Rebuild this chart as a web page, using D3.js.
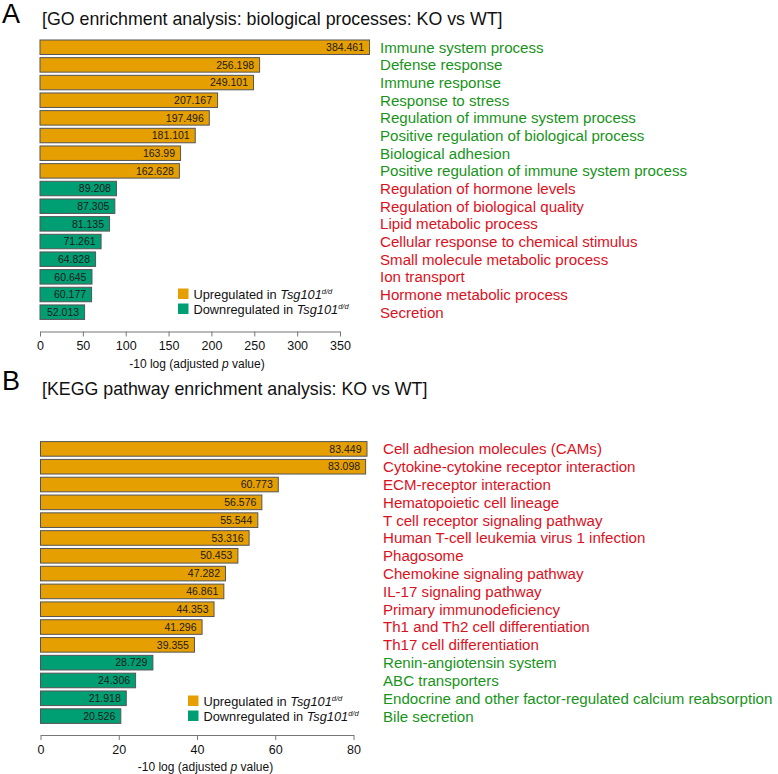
<!DOCTYPE html>
<html>
<head>
<meta charset="utf-8">
<script src="https://cdn.jsdelivr.net/npm/d3@7"></script>
<style>
html,body{margin:0;padding:0;background:#fff;}
svg{display:block;font-family:"Liberation Sans",Arial,sans-serif;}
</style>
</head>
<body>
<svg id="chart" width="778" height="774"></svg>
<script>
// ---------- Data ----------
const goTerms = [
  "Immune system process","Defense response","Immune response","Response to stress",
  "Regulation of immune system process","Positive regulation of biological process",
  "Biological adhesion","Positive regulation of immune system process",
  "Regulation of hormone levels","Regulation of biological quality","Lipid metabolic process",
  "Cellular response to chemical stimulus","Small molecule metabolic process","Ion transport",
  "Hormone metabolic process","Secretion"
];
const goValues = [384.461,256.198,249.101,207.167,197.496,181.101,163.99,162.628,
  89.208,87.305,81.135,71.261,64.828,60.645,60.177,52.013];
const goDirection = ["up","up","up","up","up","up","up","up",
  "down","down","down","down","down","down","down","down"];
const goTicks = [0,50,100,150,200,250,300,350];

const keggTerms = [
  "Cell adhesion molecules (CAMs)","Cytokine-cytokine receptor interaction","ECM-receptor interaction",
  "Hematopoietic cell lineage","T cell receptor signaling pathway","Human T-cell leukemia virus 1 infection",
  "Phagosome","Chemokine signaling pathway","IL-17 signaling pathway","Primary immunodeficiency",
  "Th1 and Th2 cell differentiation","Th17 cell differentiation","Renin-angiotensin system",
  "ABC transporters","Endocrine and other factor-regulated calcium reabsorption","Bile secretion"
];
const keggValues = [83.449,83.098,60.773,56.576,55.544,53.316,50.453,47.282,46.861,44.353,
  41.296,39.355,28.729,24.306,21.918,20.526];
const keggDirection = ["up","up","up","up","up","up","up","up","up","up","up","up",
  "down","down","down","down"];
const keggTicks = [0,20,40,60,80];

const goLabelColor = ["green","green","green","green","green","green","green","green",
  "red","red","red","red","red","red","red","red"];
const keggLabelColor = ["red","red","red","red","red","red","red","red","red","red","red","red",
  "green","green","green","green"];

// ---------- Styles ----------
const barFill = {up:"#E69F00", down:"#009E73"};
const textFill = {green:"#18941a", red:"#dc111e"};

const svg = d3.select("#chart");

function panel(cfg){
  const g = svg.append("g");
  g.append("text").attr("x",cfg.letterX).attr("y",cfg.letterY)
    .attr("font-size",27).attr("fill","#000").text(cfg.letter);
  g.append("text").attr("x",cfg.titleX).attr("y",cfg.titleY)
    .attr("font-size",17.8).attr("fill","#111").text(cfg.title);

  const x = d3.scaleLinear().domain(cfg.domain).range([cfg.x0, cfg.x1]);
  const y = d3.scaleBand().domain(cfg.terms).range([cfg.yTop, cfg.yBottom]).paddingInner(0.18).paddingOuter(0.09);

  const rows = cfg.terms.map((t,i)=>({term:t, v:cfg.values[i], dir:cfg.dir[i], col:cfg.labelColor[i]}));

  g.selectAll("rect.bar").data(rows).join("rect").attr("class","bar")
    .attr("x",x(0)).attr("y",d=>y(d.term))
    .attr("width",d=>x(d.v)-x(0)).attr("height",y.bandwidth())
    .attr("fill",d=>barFill[d.dir]).attr("stroke","#555").attr("stroke-width",1);

  g.selectAll("text.val").data(rows).join("text").attr("class","val")
    .attr("x",d=>x(d.v)-5.5).attr("y",d=>y(d.term)+y.bandwidth()/2)
    .attr("dy","0.35em").attr("text-anchor","end").attr("font-size",10.5).attr("fill","#1a1a1a")
    .text(d=>d.v);

  g.selectAll("text.term").data(rows).join("text").attr("class","term")
    .attr("x",cfg.labelX).attr("y",d=>y(d.term)+y.bandwidth()/2)
    .attr("dy","0.36em").attr("font-size",15.1).attr("fill",d=>textFill[d.col])
    .text(d=>d.term);

  const axis = d3.axisBottom(x).tickValues(cfg.ticks).tickSize(5).tickSizeOuter(0).tickFormat(d3.format("d"));
  const ag = g.append("g").attr("transform",`translate(0,${cfg.axisY})`).call(axis);
  ag.select(".domain").attr("stroke","#777");
  ag.selectAll(".tick line").attr("stroke","#777");
  ag.selectAll(".tick text").attr("font-size",12.5).attr("fill","#111").attr("dy","0.85em")
    .attr("font-family","'Liberation Sans',Arial,sans-serif");

  const at = g.append("text").attr("x",cfg.axisTitleX).attr("y",cfg.axisY+36)
    .attr("text-anchor","middle").attr("font-size",12).attr("fill","#111");
  at.append("tspan").text("-10 log (adjusted ");
  at.append("tspan").attr("font-style","italic").text("p");
  at.append("tspan").text(" value)");

  const leg = [{k:"up",t:"Upregulated in "},{k:"down",t:"Downregulated in "}];
  leg.forEach((l,i)=>{
    const ly = cfg.legY + i*15;
    g.append("rect").attr("x",cfg.legX).attr("y",ly).attr("width",10.5).attr("height",10.5)
      .attr("fill",barFill[l.k]);
    const tx = g.append("text").attr("x",cfg.legX+15.5).attr("y",ly+5.5).attr("dy","0.36em")
      .attr("font-size",12.8).attr("fill","#111");
    tx.append("tspan").text(l.t);
    tx.append("tspan").attr("font-style","italic").text("Tsg101");
    tx.append("tspan").attr("font-style","italic").attr("font-size",7.5).attr("dy","-0.65em").text("d/d");
  });
}

panel({letter:"A", letterX:2, letterY:23, titleX:42, titleY:25,
  title:"[GO enrichment analysis: biological processes: KO vs WT]",
  terms:goTerms, values:goValues, dir:goDirection, labelColor:goLabelColor,
  domain:[0,350], ticks:goTicks, x0:40, x1:340, axisTitleX:197,
  yTop:38.4, yBottom:321, labelX:380, axisY:331.5, legX:178, legY:288.5});

panel({letter:"B", letterX:2, letterY:390, titleX:42, titleY:395,
  title:"[KEGG pathway enrichment analysis: KO vs WT]",
  terms:keggTerms, values:keggValues, dir:keggDirection, labelColor:keggLabelColor,
  domain:[0,80], ticks:keggTicks, x0:40.5, x1:353.5, axisTitleX:205.5,
  yTop:440, yBottom:725, labelX:383, axisY:735, legX:188, legY:695.5});
</script>
</body>
</html>
